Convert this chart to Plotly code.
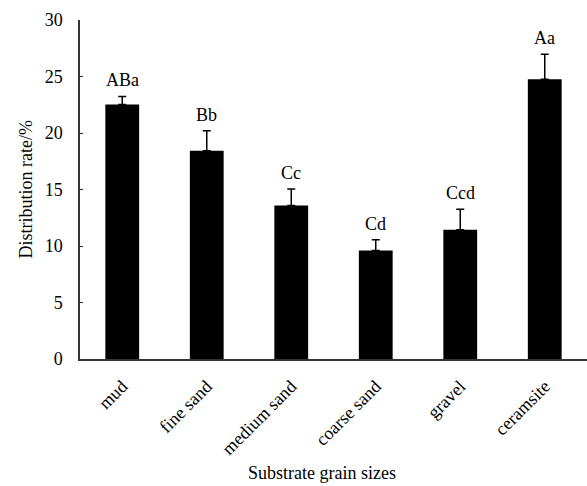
import plotly.graph_objects as go

categories = ["mud", "fine sand", "medium sand", "coarse sand", "gravel", "ceramsite"]
values = [22.53, 18.44, 13.58, 9.60, 11.43, 24.76]
errors = [0.71, 1.77, 1.47, 0.95, 1.83, 2.21]
letters = ["ABa", "Bb", "Cc", "Cd", "Ccd", "Aa"]
y_ticks = [0, 5, 10, 15, 20, 25, 30]
x_title = "Substrate grain sizes"
y_title = "Distribution rate/%"

FONT = "Liberation Serif, Times New Roman, serif"
FS = 18

fig = go.Figure()
fig.add_trace(go.Bar(
    x=categories,
    y=values,
    width=0.4,
    marker=dict(color="black", line=dict(width=0)),
    error_y=dict(type="data", array=errors, arrayminus=[0] * len(errors),
                 symmetric=False, color="black", thickness=1.5, width=4),
    showlegend=False,
    hoverinfo="skip",
))

for c, v, e, t in zip(categories, values, errors, letters):
    fig.add_annotation(x=c, y=v + e, text=t, showarrow=False,
                       yanchor="bottom", yshift=4,
                       font=dict(family=FONT, size=FS, color="black"))

# axis titles
fig.add_annotation(xref="paper", yref="paper", x=0.477, y=0, yshift=-114,
                   xanchor="center", yanchor="middle", text=x_title, showarrow=False,
                   font=dict(family=FONT, size=FS, color="black"))
fig.add_annotation(xref="paper", yref="paper", x=0, xshift=-55, y=0.5,
                   xanchor="center", yanchor="middle", textangle=-90,
                   text=y_title, showarrow=False,
                   font=dict(family=FONT, size=FS, color="black"))

fig.update_layout(
    width=587, height=486,
    margin=dict(l=80, r=0, t=20, b=127),
    plot_bgcolor="white", paper_bgcolor="white",
    font=dict(family=FONT, size=FS, color="black"),
)
fig.update_xaxes(
    range=[-0.5, 5.5], showline=True, linecolor="#333333", linewidth=1.5,
    ticks="", tickangle=-45, ticklabelstandoff=8,
    tickfont=dict(family=FONT, size=FS, color="black"),
    showgrid=False, zeroline=False, automargin=False,
)
fig.update_yaxes(
    range=[0, 30], tickvals=y_ticks, showline=True, linecolor="#333333", linewidth=1.5,
    ticks="inside", ticklen=3, tickcolor="#333333", ticklabelstandoff=12,
    tickfont=dict(family=FONT, size=FS, color="black"),
    showgrid=False, zeroline=False, automargin=False,
)

fig.write_html("out.html", config={"displayModeBar": False},
               post_script="document.body.style.margin='0px';document.body.style.overflow='hidden';")
